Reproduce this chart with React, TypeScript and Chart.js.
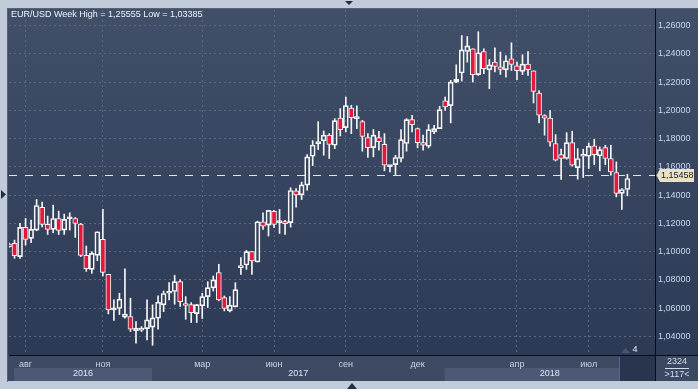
import React, { useEffect, useRef } from 'react';
import { Chart, registerables } from 'chart.js';

Chart.register(...registerables);

// Weekly EUR/USD candles
const opens = [
  1.1054, 1.1059, 1.0965, 1.1172, 1.1094, 1.1153, 1.1313, 1.1193, 1.1158, 1.1235,
  1.1153, 1.1233, 1.1235, 1.1195, 1.0974, 1.0875, 1.0974, 1.1087, 1.0840, 1.0588,
  1.0598, 1.0536, 1.0541, 1.0442, 1.0445, 1.0456, 1.0466, 1.0529, 1.0624, 1.0706,
  1.0718, 1.0788, 1.0633, 1.0626, 1.0562, 1.0617, 1.0682, 1.0744, 1.0852, 1.0675,
  1.0581, 1.0609, 1.0887, 1.0906, 1.1000, 1.0927, 1.1212, 1.1188, 1.1285, 1.1205,
  1.1209, 1.1205, 1.1431, 1.1402, 1.1471, 1.1675, 1.1762, 1.1784, 1.1824, 1.1753,
  1.1946, 1.1878, 1.2016, 1.1941, 1.1920, 1.1807, 1.1736, 1.1807, 1.1760, 1.1602,
  1.1616, 1.1659, 1.1765, 1.1934, 1.1871, 1.1772, 1.1746, 1.1847, 1.1871, 1.2068,
  1.2033, 1.2200, 1.2264, 1.2416, 1.2435, 1.2252, 1.2416, 1.2287, 1.2341, 1.2308,
  1.2287, 1.2365, 1.2315, 1.2275, 1.2327, 1.2280, 1.2122, 1.1962, 1.1946, 1.1765,
  1.1687, 1.1659, 1.1772, 1.1595, 1.1675, 1.1675, 1.1748, 1.1678, 1.1736, 1.1659,
  1.1560, 1.1412, 1.1440,
];
const highs = [
  1.1060, 1.1082, 1.1200, 1.1235, 1.1224, 1.1369, 1.1351, 1.1252, 1.1329, 1.1287,
  1.1266, 1.1275, 1.1242, 1.1200, 1.1040, 1.1000, 1.1141, 1.1299, 1.0840, 1.0659,
  1.0706, 1.0878, 1.0671, 1.0506, 1.0470, 1.0659, 1.0624, 1.0687, 1.0722, 1.0781,
  1.0833, 1.0800, 1.0682, 1.0640, 1.0628, 1.0706, 1.0788, 1.0828, 1.0911, 1.0687,
  1.0682, 1.0781, 1.0958, 1.1009, 1.1000, 1.1216, 1.1275, 1.1292, 1.1292, 1.1299,
  1.1221, 1.1452, 1.1447, 1.1492, 1.1687, 1.1786, 1.1920, 1.1854, 1.1835, 1.1941,
  1.2012, 1.2094, 1.2035, 1.2031, 1.1929, 1.1835, 1.1864, 1.1852, 1.1835, 1.1610,
  1.1682, 1.1864, 1.1941, 1.1965, 1.1875, 1.1824, 1.1899, 1.1894, 1.2028, 1.2094,
  1.2212, 1.2322, 1.2529, 1.2522, 1.2435, 1.2556, 1.2435, 1.2360, 1.2442, 1.2412,
  1.2388, 1.2478, 1.2341, 1.2393, 1.2416, 1.2280, 1.2139, 1.1969, 1.1998, 1.1828,
  1.1725, 1.1842, 1.1852, 1.1729, 1.1725, 1.1769, 1.1795, 1.1741, 1.1753, 1.1753,
  1.1635, 1.1447, 1.1548,
];
const lows = [
  1.1030, 1.0953, 1.0953, 1.1047, 1.1064, 1.1148, 1.1176, 1.1122, 1.1134, 1.1122,
  1.1122, 1.1153, 1.1101, 1.0965, 1.0861, 1.0847, 1.0936, 1.0828, 1.0560, 1.0513,
  1.0555, 1.0529, 1.0435, 1.0353, 1.0435, 1.0376, 1.0338, 1.0452, 1.0576, 1.0659,
  1.0628, 1.0612, 1.0522, 1.0499, 1.0499, 1.0527, 1.0605, 1.0722, 1.0652, 1.0581,
  1.0574, 1.0609, 1.0840, 1.0875, 1.0840, 1.0927, 1.1158, 1.1111, 1.1169, 1.1129,
  1.1122, 1.1174, 1.1315, 1.1369, 1.1435, 1.1609, 1.1722, 1.1682, 1.1659, 1.1729,
  1.1819, 1.1847, 1.1835, 1.1871, 1.1711, 1.1666, 1.1671, 1.1718, 1.1572, 1.1565,
  1.1546, 1.1635, 1.1711, 1.1847, 1.1734, 1.1718, 1.1734, 1.1835, 1.1871, 1.2000,
  1.1911, 1.2195, 1.2207, 1.2341, 1.2200, 1.2247, 1.2259, 1.2153, 1.2271, 1.2254,
  1.2235, 1.2282, 1.2216, 1.2252, 1.2247, 1.2052, 1.1911, 1.1824, 1.1746, 1.1642,
  1.1511, 1.1654, 1.1605, 1.1513, 1.1525, 1.1588, 1.1616, 1.1572, 1.1616, 1.1541,
  1.1388, 1.1299, 1.1395,
];
const closes = [
  1.1036, 1.0972, 1.1172, 1.1087, 1.1158, 1.1327, 1.1193, 1.1158, 1.1235, 1.1151,
  1.1228, 1.1237, 1.1200, 1.0974, 1.0880, 1.0988, 1.1141, 1.0854, 1.0588, 1.0595,
  1.0664, 1.0558, 1.0452, 1.0459, 1.0456, 1.0518, 1.0532, 1.0642, 1.0704, 1.0713,
  1.0788, 1.0647, 1.0619, 1.0569, 1.0626, 1.0682, 1.0746, 1.0800, 1.0659, 1.0598,
  1.0621, 1.0732, 1.0901, 1.1000, 1.0934, 1.1212, 1.1181, 1.1292, 1.1193, 1.1209,
  1.1198, 1.1433, 1.1402, 1.1473, 1.1671, 1.1755, 1.1779, 1.1824, 1.1758, 1.1927,
  1.1864, 1.2033, 1.1948, 1.1949, 1.1816, 1.1736, 1.1824, 1.1779, 1.1612, 1.1605,
  1.1666, 1.1793, 1.1934, 1.1899, 1.1772, 1.1753, 1.1864, 1.1871, 1.2005, 1.2024,
  1.2200, 1.2219, 1.2428, 1.2456, 1.2252, 1.2407, 1.2294, 1.2322, 1.2311, 1.2289,
  1.2351, 1.2325, 1.2280, 1.2327, 1.2287, 1.2134, 1.1965, 1.1944, 1.1774, 1.1647,
  1.1659, 1.1772, 1.1612, 1.1659, 1.1687, 1.1746, 1.1687, 1.1722, 1.1659, 1.1565,
  1.1412, 1.1440, 1.1518,
];

const monthLabels = ['авг', 'ноя', 'мар', 'июн', 'сен', 'дек', 'апр', 'июл'];
const monthIndex = [3, 17, 35, 48, 61, 74, 92, 105];
const yearLabels = ['2016', '2017', '2018'];
const yearStart = [0.9, 25.9, 78.9];
const yTicks = [1.04, 1.06, 1.08, 1.1, 1.12, 1.14, 1.16, 1.18, 1.2, 1.22, 1.24, 1.26];
const lastPrice = 1.15458;
const titleText = 'EUR/USD Week High = 1,25555 Low = 1,03385';
const counterTop = '2324';
const counterBottom = '>117<';
const markerText = '4';
const SLOTS = 118;

const FONT = '"Liberation Sans", Arial, sans-serif';
const RED = '#e3183d';
const WHITE = '#f6f6f6';

export default function App() {
  const ref = useRef<HTMLCanvasElement>(null);

  useEffect(() => {
    document.body.style.margin = '0';
    const canvas = ref.current;
    if (!canvas) return;

    const labels = Array.from({ length: SLOTS }, (_, i) => {
      const k = monthIndex.indexOf(i);
      return k >= 0 ? monthLabels[k] : '';
    });
    const bodies = opens.map((o, i) => [o, closes[i]]);
    const upper = opens.map((o, i) => [Math.max(o, closes[i]), highs[i]]);
    const lower = opens.map((o, i) => [lows[i], Math.min(o, closes[i])]);

    const chrome = {
      id: 'chrome',
      beforeDraw(chart: any) {
        const ctx = chart.ctx;
        const W = chart.width;
        const H = chart.height;
        ctx.save();
        ctx.fillStyle = '#c1cbd9';
        ctx.fillRect(0, 0, W, H);
        ctx.fillStyle = '#56627a';
        ctx.fillRect(7, 8, W - 7, 1);
        ctx.fillRect(7, 8, 1, 374);
        const g = ctx.createLinearGradient(0, 9, 0, 355);
        g.addColorStop(0, '#414f69');
        g.addColorStop(1, '#2d3a55');
        ctx.fillStyle = g;
        ctx.fillRect(8, 9, W - 8, 346);
        // time axis strip
        ctx.fillStyle = '#3d4a64';
        ctx.fillRect(8, 355, W - 8, 26);
        const xs = chart.scales.x;
        const area = chart.chartArea;
        ctx.font = '9px ' + FONT;
        ctx.textAlign = 'center';
        ctx.textBaseline = 'middle';
        for (let i = 0; i < yearLabels.length; i++) {
          const s = xs.getPixelForValue(yearStart[i]);
          const e = i + 1 < yearLabels.length ? xs.getPixelForValue(yearStart[i + 1]) : area.right;
          if (i % 2 === 0) {
            ctx.fillStyle = '#4b5974';
            ctx.fillRect(s, 368, e - s, 13);
          }
        }
        // dark scroll panel
        ctx.fillStyle = '#29354f';
        ctx.fillRect(620, 356, 35, 25);
        ctx.fillStyle = '#5a667e';
        ctx.fillRect(619, 357, 1, 23);
        for (let i = 0; i < yearLabels.length; i++) {
          const s = xs.getPixelForValue(yearStart[i]);
          const e = i + 1 < yearLabels.length ? xs.getPixelForValue(yearStart[i + 1]) : area.right;
          ctx.fillStyle = '#dce5f3';
          ctx.fillText(yearLabels[i], (s + e) / 2, 374);
        }
        ctx.restore();
      },
      beforeDatasetsDraw(chart: any) {
        const ctx = chart.ctx;
        const area = chart.chartArea;
        const y = Math.round(chart.scales.y.getPixelForValue(lastPrice)) + 0.5;
        ctx.save();
        ctx.strokeStyle = '#e6e6e6';
        ctx.lineWidth = 1;
        ctx.setLineDash([8, 8]);
        ctx.beginPath();
        ctx.moveTo(area.left, y);
        ctx.lineTo(area.right, y);
        ctx.stroke();
        ctx.restore();
      },
      afterDraw(chart: any) {
        const ctx = chart.ctx;
        const W = chart.width;
        const area = chart.chartArea;
        ctx.save();
        // black frame lines
        ctx.fillStyle = '#0a0d14';
        ctx.fillRect(area.left, 355, W - area.left, 1);
        ctx.fillRect(655, 9, 1, 372);
        // title
        ctx.font = '9px ' + FONT;
        ctx.textAlign = 'left';
        ctx.textBaseline = 'middle';
        ctx.fillStyle = '#eef2f9';
        ctx.fillText(titleText, 11, 15);
        // price label
        const py = Math.round(chart.scales.y.getPixelForValue(lastPrice)) + 0.5;
        ctx.fillStyle = '#9a9a90';
        ctx.beginPath();
        ctx.moveTo(656, py);
        ctx.lineTo(660, py - 6.5);
        ctx.lineTo(661, py + 7);
        ctx.closePath();
        ctx.fill();
        ctx.fillStyle = '#e8e2c6';
        ctx.beginPath();
        ctx.moveTo(657, py);
        ctx.lineTo(660, py - 6.5);
        ctx.lineTo(694, py - 6.5);
        ctx.lineTo(694, py + 6.5);
        ctx.lineTo(660, py + 6.5);
        ctx.closePath();
        ctx.fill();
        ctx.fillStyle = '#1a1a1a';
        ctx.fillText(lastPrice.toFixed(5).replace('.', ','), 661, py + 0.5);
        // marker "4"
        ctx.fillStyle = '#4a5670';
        ctx.beginPath();
        ctx.moveTo(621, 353);
        ctx.lineTo(630, 353);
        ctx.lineTo(625.5, 348);
        ctx.closePath();
        ctx.fill();
        ctx.fillStyle = '#e6ecf6';
        ctx.textAlign = 'center';
        ctx.fillText(markerText, 635, 349.5);
        // bottom right counters
        ctx.fillStyle = '#3b4862';
        ctx.fillRect(656, 356, W - 656, 25);
        ctx.fillStyle = '#d3ddee';
        ctx.fillText(counterTop, 677, 362);
        ctx.fillRect(665, 368, 24, 1);
        ctx.fillText(counterBottom, 677, 375);
        // small arrows on frame
        ctx.fillStyle = '#232d44';
        ctx.beginPath();
        ctx.moveTo(345, 1);
        ctx.lineTo(353, 1);
        ctx.lineTo(349, 5);
        ctx.closePath();
        ctx.fill();
        ctx.beginPath();
        ctx.moveTo(347, 389);
        ctx.lineTo(357, 389);
        ctx.lineTo(352, 383);
        ctx.closePath();
        ctx.fill();
        ctx.beginPath();
        ctx.moveTo(1, 190);
        ctx.lineTo(1, 199);
        ctx.lineTo(6, 194.5);
        ctx.closePath();
        ctx.fill();
        ctx.restore();
      },
    };

    const chart = new Chart(canvas, {
      type: 'bar',
      data: {
        labels,
        datasets: [
          {
            label: 'body',
            data: bodies as any,
            backgroundColor: (c: any) =>
              c.dataIndex < closes.length && closes[c.dataIndex] < opens[c.dataIndex] ? RED : 'rgba(0,0,0,0)',
            borderColor: WHITE,
            borderWidth: 1,
            borderSkipped: false,
            barThickness: 5,
            minBarLength: 2,
            grouped: false,
            clip: 0,
          } as any,
          {
            label: 'upper wick',
            data: upper as any,
            backgroundColor: WHITE,
            borderWidth: 0,
            barThickness: 1,
            grouped: false,
            clip: 0,
          } as any,
          {
            label: 'lower wick',
            data: lower as any,
            backgroundColor: WHITE,
            borderWidth: 0,
            barThickness: 1,
            grouped: false,
            clip: 0,
          } as any,
        ],
      },
      options: {
        responsive: false,
        animation: false,
        devicePixelRatio: 1,
        layout: { padding: { left: 9, top: 10, right: 0, bottom: 8 } },
        plugins: { legend: { display: false }, tooltip: { enabled: false } },
        scales: {
          x: {
            type: 'category',
            offset: false,
            grid: {
              offset: false,
              drawTicks: false,
              lineWidth: 1,
              color: (c: any) => (monthIndex.includes(c.index) ? '#5a6884' : 'rgba(0,0,0,0)'),
            },
            border: { display: false, dash: [2, 3] },
            ticks: {
              autoSkip: false,
              maxRotation: 0,
              minRotation: 0,
              padding: 4,
              color: '#c9d4e8',
              font: { family: FONT, size: 9 },
            },
            afterFit: (s: any) => {
              s.height = 26;
            },
          },
          y: {
            type: 'linear',
            position: 'right',
            min: 1.02691,
            max: 1.27097,
            afterBuildTicks: (s: any) => {
              s.ticks = yTicks.map((v) => ({ value: v }));
            },
            grid: { color: '#5a6884', drawTicks: false, lineWidth: 1 },
            border: { display: false, dash: [2, 3] },
            ticks: {
              padding: 3,
              color: '#c9d6ec',
              font: { family: FONT, size: 9 },
              callback: (v: any) => Number(v).toFixed(5).replace('.', ','),
            },
            afterFit: (s: any) => {
              s.width = 43;
            },
          },
        },
      },
      plugins: [chrome],
    } as any);

    return () => chart.destroy();
  }, []);

  return (
    <div style={{ position: 'fixed', left: 0, top: 0, width: 698, height: 389 }}>
      <canvas ref={ref} width={698} height={389} style={{ display: 'block', width: 698, height: 389 }} />
    </div>
  );
}
